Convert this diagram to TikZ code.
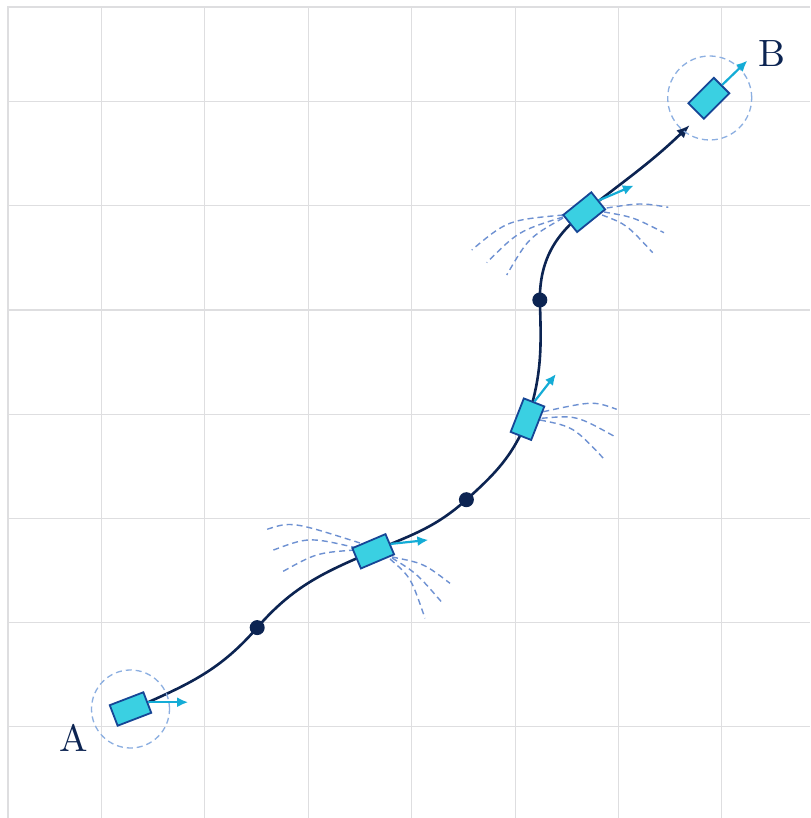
\documentclass[tikz,border=0pt]{standalone}
\usetikzlibrary{arrows.meta}
\definecolor{navy}{RGB}{12,36,82}
\definecolor{robofill}{RGB}{58,208,226}
\definecolor{robodraw}{RGB}{22,70,150}
\definecolor{headcol}{RGB}{20,172,214}
\definecolor{scancol}{RGB}{110,145,210}
\definecolor{zonecol}{RGB}{140,175,225}
\definecolor{gridcol}{RGB}{222,222,224}
\pgfdeclarelayer{bg}
\pgfdeclarelayer{mid}
\pgfsetlayers{bg,mid,main}
\tikzset{
 gridline/.style={draw=gridcol, line width=1.1pt},
 robot/.style={rectangle, draw=robodraw, fill=robofill, line width=1.8pt, minimum width=36pt, minimum height=22pt, inner sep=0pt},
 heading/.style={draw=headcol, line width=2.2pt, -{Latex[length=11pt,width=10pt]}},
 traj/.style={draw=navy, line width=2.6pt},
 wp/.style={circle, fill=navy, minimum size=15pt, inner sep=0pt},
 scan/.style={draw=scancol, line width=1.4pt, dash pattern=on 6pt off 4pt},
 zone/.style={circle, draw=zonecol, line width=1.3pt, dash pattern=on 6pt off 4pt, inner sep=0pt},
 lbl/.style={text=navy, font=\fontsize{10}{10}\selectfont, inner sep=0pt, scale=3.8},
}
\begin{document}
\begin{tikzpicture}[x=1pt,y=1pt]
\useasboundingbox (0,0) rectangle (810,818);
\begin{pgfonlayer}{bg}
\fill[white] (0,0) rectangle (810,818);
\foreach \x in {101.5,204.9,308.3,411.7,515.1,618.5,721.9} \draw[gridline] (\x,0) -- (\x,811);
\foreach \y in {91.3,195.5,299.6,403.8,508,612.1,716.3} \draw[gridline] (8,\y) -- (810,\y);
\draw[gridline] (8,0) -- (8,811) -- (810,811);
\end{pgfonlayer}
% zones
\node[zone, minimum size=78pt] (zA) at (130.5,109) {};
\node[zone, minimum size=84pt] (zB) at (709.7,720) {};
% waypoints
\node[wp] (d1) at (257.2,190.4) {};
\node[wp] (d2) at (466.4,318.3) {};
\node[wp] (d3) at (539.8,518) {};
% robots
\node[robot, rotate=21] (rA) at (130.5,109) {};
\node[robot, rotate=23] (r2) at (373.2,266.7) {};
\node[robot, rotate=68.6] (r3) at (527.5,398.8) {};
\node[robot, rotate=38.9] (r4) at (584.2,605.8) {};
\node[robot, rotate=45] (rB) at (708.8,719.7) {};
\coordinate (tip) at (689.6,692.8);
% trajectory
\begin{pgfonlayer}{mid}
\draw[traj, -{Latex[length=13pt,width=11pt]}] (rA.east) to[out=24,in=229] (d1.center) to[out=49,in=203] (r2.center) to[out=23,in=222] (d2.center) to[out=42,in=248] (r3.center) to[out=72,in=-88] (d3.center) to[out=90,in=218] (r4.center) to[out=38,in=224] (tip);
% scans robot 2
\draw[scan] (360,275) .. controls (291.4,296.8) .. (265,288);
\draw[scan] (357,270) .. controls (308.6,281.2) .. (271.7,267.3);
\draw[scan] (355,268) .. controls (316.3,265.1) .. (280.7,245.3);
\draw[scan] (392,261) .. controls (423.7,254.7) .. (450,234.7);
\draw[scan] (392,260) .. controls (416.5,244.9) .. (442.7,214.7);
\draw[scan] (390,259) .. controls (410.8,240.9) .. (425,199.7);
% scans robot 3
\draw[scan] (543.3,406.3) .. controls (593.3,417.1) .. (616.7,408.7);
\draw[scan] (541.7,399.7) .. controls (576.2,402.8) .. (615,381.3);
\draw[scan] (540,398) .. controls (573.6,391.3) .. (605,358);
% scans robot 4
\draw[scan] (563.3,603) .. controls (507.5,597.8) .. (471.7,568);
\draw[scan] (563,601) .. controls (518.4,586.9) .. (486.7,555.3);
\draw[scan] (563,600) .. controls (528.4,580.2) .. (506.7,543);
\draw[scan] (606.7,610) .. controls (640.8,615.2) .. (668.3,610.7);
\draw[scan] (604,606) .. controls (633.1,601) .. (664,585.3);
\draw[scan] (602,603) .. controls (626.5,593.7) .. (652.7,565.3);
\end{pgfonlayer}
% headings
\draw[heading] (rA.east) -- ++(0:40);
\draw[heading] (r2.east) -- ++(6:38);
\draw[heading] (r3.east) -- ++(52:35);
\draw[heading] (r4.east) -- ++(23:38);
\draw[heading] (rB.east) -- ++(44:35);
% labels
\node[lbl] (la) at (73.3,80) {A};
\node[lbl] (lb) at (771.7,764.7) {B};
\end{tikzpicture}
\end{document}
